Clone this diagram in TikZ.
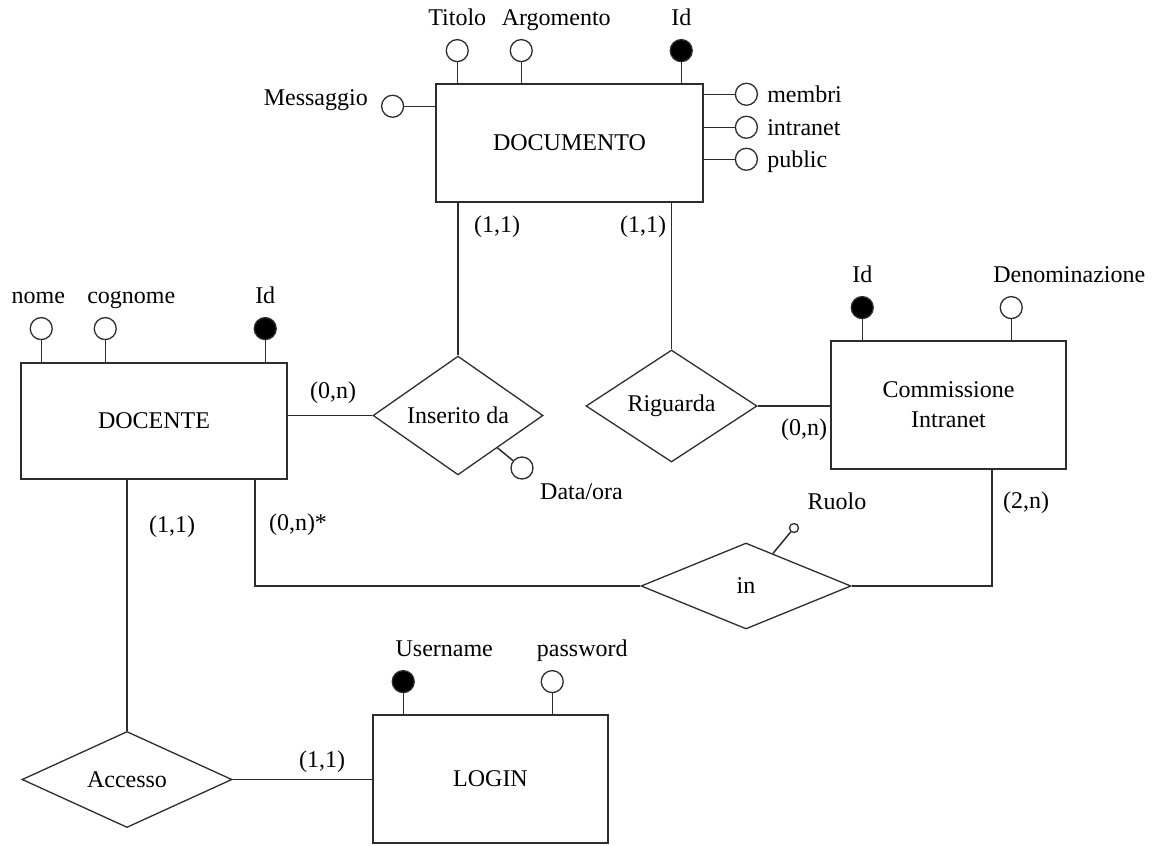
\documentclass[tikz,border=0pt]{standalone}
\usepackage{fontspec}
\setmainfont{Liberation Serif}
\usetikzlibrary{positioning, shapes.geometric}
\definecolor{erline}{RGB}{45,45,45}
\tikzset{
    entity/.style={draw=erline, line width=1.5pt, fill=white, align=center, inner sep=0pt},
    rel/.style={diamond, draw=erline, line width=1.3pt, fill=white, inner sep=0pt},
    attr/.style={circle, draw=erline, line width=1.3pt, fill=white, minimum size=22pt, inner sep=0pt},
    keyattr/.style={attr, fill=black},
    smallattr/.style={attr, minimum size=9pt},
    txt/.style={inner sep=0pt, text height=16pt, text depth=5pt},
    card/.style={txt},
    link/.style={draw=erline, line width=1.5pt},
}

\begin{document}
\begin{tikzpicture}[x=1pt, y=-1pt, font=\fontsize{24}{30}\selectfont]
    \useasboundingbox[fill=white] (0,0) rectangle (1160,846);
    % entities
    \node[entity, minimum width=267pt, minimum height=118pt] (doc) at (569.5,143) {DOCUMENTO};
    \node[entity, minimum width=266pt, minimum height=116pt] (doce) at (154,421) {DOCENTE};
    \node[entity, minimum width=235pt, minimum height=128pt] (comm) at (948.5,405) {Commissione\\Intranet};
    \node[entity, minimum width=235pt, minimum height=128pt] (login) at (490.5,779) {LOGIN};
    % relationships
    \node[rel, minimum width=170pt, minimum height=105pt] (ins) at (458,415.5) {Inserito da};
    \node[rel, minimum width=171pt, minimum height=112pt] (rig) at (671.5,406) {Riguarda};
    \node[rel, minimum width=210pt, minimum height=86pt] (inr) at (746,586) {in};
    \node[rel, minimum width=210pt, minimum height=85pt] (acc) at (127,779.5) {Accesso};
    % attributes of DOCUMENTO
    \node[attr, above=21pt of doc.north west, xshift=22pt] (tit) {};
    \node[attr, above=21pt of doc.north west, xshift=86pt] (arg) {};
    \node[keyattr, above=21pt of doc.north west, xshift=246pt] (did) {};
    \node[attr, left=31pt of doc.north west, yshift=-23pt] (msg) {};
    \node[attr, right=31pt of doc.north east, yshift=-11pt] (mem) {};
    \node[attr, right=31pt of doc.north east, yshift=-44pt] (itr) {};
    \node[attr, right=31pt of doc.north east, yshift=-76pt] (pub) {};
    \node[txt, above=8pt of tit] (ttit) {Titolo};
    \node[txt, above=8pt of arg, xshift=35pt] (targ) {Argomento};
    \node[txt, above=8pt of did] (tdid) {Id};
    \node[txt, left=13pt of msg, yshift=6pt] (tmsg) {Messaggio};
    \node[txt, right=9pt of mem, yshift=-3pt] (tmem) {membri};
    \node[txt, right=9pt of itr, yshift=-3pt] (titr) {intranet};
    \node[txt, right=9pt of pub, yshift=-3pt] (tpub) {public};
    % attributes of DOCENTE
    \node[attr, above=22pt of doce.north west, xshift=21pt] (nom) {};
    \node[attr, above=22pt of doce.north west, xshift=85pt] (cog) {};
    \node[keyattr, above=22pt of doce.north west, xshift=245pt] (dcid) {};
    \node[txt, above=8pt of nom, xshift=-3pt] (tnom) {nome};
    \node[txt, above=8pt of cog, xshift=26pt] (tcog) {cognome};
    \node[txt, above=8pt of dcid] (tdcid) {Id};
    % attributes of Commissione Intranet
    \node[keyattr, above=21pt of comm.north west, xshift=32pt] (cid) {};
    \node[attr, above=21pt of comm.north west, xshift=181pt] (den) {};
    \node[txt, above=8pt of cid] (tcid) {Id};
    \node[txt, above=8pt of den, xshift=58pt] (tden) {Denominazione};
    % attributes of LOGIN
    \node[keyattr, above=21pt of login.north west, xshift=31pt] (usr) {};
    \node[attr, above=21pt of login.north west, xshift=180pt] (pwd) {};
    \node[txt, above=8pt of usr, xshift=41pt] (tusr) {Username};
    \node[txt, above=8pt of pwd, xshift=30pt] (tpwd) {password};
    % attributes of relationships
    \node[attr] (dat) at (522,468) {};
    \node[txt, anchor=west] (tdat) at (540,494) {Data/ora};
    \node[smallattr] (ruo) at (794,528) {};
    \node[txt] (truo) at (837,504) {Ruolo};
    % stems
    \foreach \a in {tit, arg, did} \draw[link] (\a) -- (\a |- doc.north);
    \foreach \a in {mem, itr, pub} \draw[link] (\a) -- (\a -| doc.east);
    \draw[link] (msg) -- (msg -| doc.west);
    \foreach \a in {nom, cog, dcid} \draw[link] (\a) -- (\a |- doce.north);
    \foreach \a in {cid, den} \draw[link] (\a) -- (\a |- comm.north);
    \foreach \a in {usr, pwd} \draw[link] (\a) -- (\a |- login.north);
    \draw[link] (ins) -- (dat);
    \draw[link] (inr) -- (ruo);
    % connectors
    \draw[link] (ins) -- (ins |- doc.south);
    \draw[link] (rig) -- (rig |- doc.south);
    \draw[link] (ins) -- (ins -| doce.east);
    \draw[link] (rig) -- (rig -| comm.west);
    \draw[link] (acc) -- (acc |- doce.south);
    \draw[link] (acc) -- (acc -| login.west);
    \draw[link] (inr.west) -| ([xshift=101pt]doce.south);
    \draw[link] (inr.east) -| ([xshift=43.5pt]comm.south);
    % cardinalities
    \node[card] (c1) at (497,227) {(1,1)};
    \node[card] (c2) at (643,227) {(1,1)};
    \node[card] (c3) at (333,393) {(0,n)};
    \node[card] (c4) at (804,430) {(0,n)};
    \node[card] (c5) at (172,527) {(1,1)};
    \node[card] (c6) at (298,525) {(0,n)*};
    \node[card] (c7) at (1026,503) {(2,n)};
    \node[card] (c8) at (322,762) {(1,1)};
\end{tikzpicture}
\end{document}
